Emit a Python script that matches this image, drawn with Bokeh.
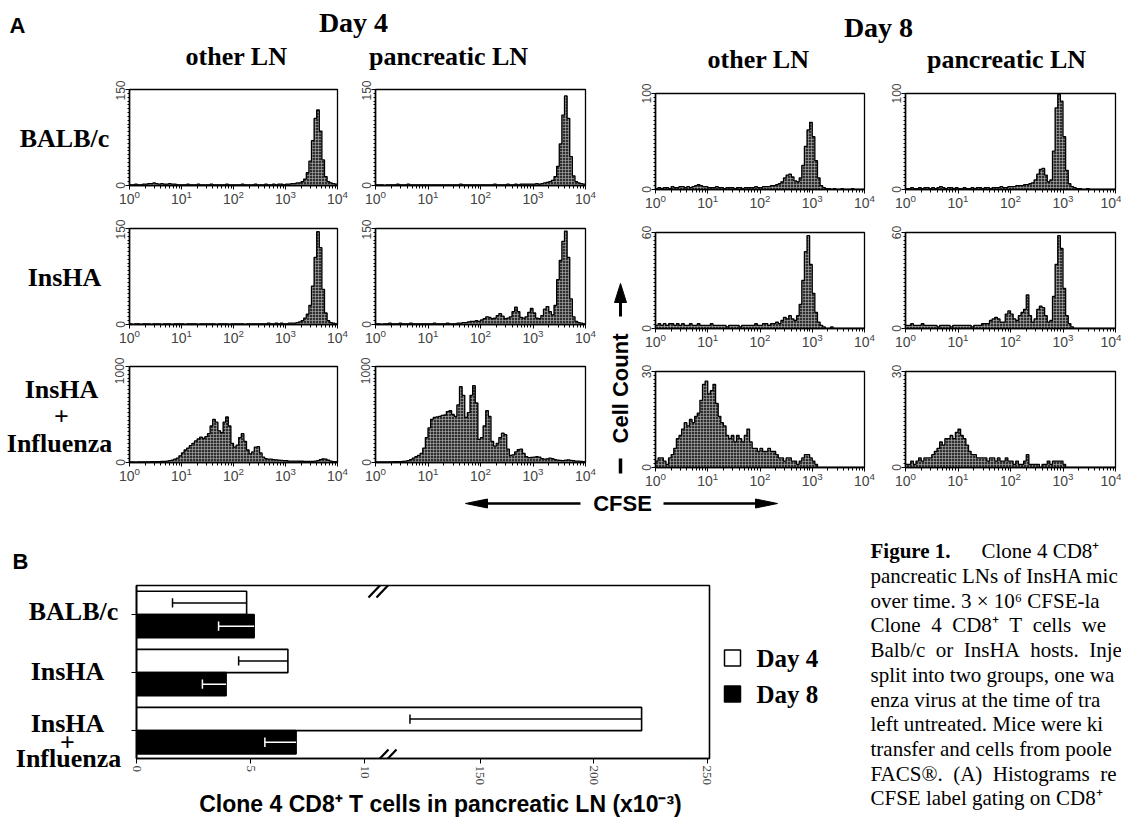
import math
from bokeh.plotting import figure
from bokeh.layouts import column, row
from bokeh.models import (Range1d, FixedTicker, ColumnDataSource, Arrow,
                          CustomJSTransform, CustomJSTickFormatter)
from bokeh.core.properties import value
from bokeh.transform import transform
from bokeh.embed import file_html
from bokeh.resources import INLINE

SANS = "Liberation Sans"
SERIF = "Liberation Serif"

# ---------------- Panel A data (CFSE histograms) ----------------
# 80 bins of 0.05 decade from 10^0 to 10^4 (log10 edges)
cfse_edges_log10 = [round(0.05 * i, 2) for i in range(81)]
hosts = ["BALB/c", "InsHA", "InsHA + Influenza"]
ymax_day4 = [150, 150, 1000]
ymax_day8 = [100, 60, 30]

d4_other_balbc = [1,1,2,1,1,2, 2,3,3,4,3,2,3,2,2,3,2,2,1,1,
                  1,1,2,1,1,1,2,1,1,1, 1,2,1,1,1,1,1,2,1,1, 1,1,1,2,1,1,1,1,2,1, 1,1,2,1,1,2,1,2,2,1,
                  2,2,3,3,4,4, 6,10,20,38,70,105,118,85,40,14,6,4,3,2]
d4_panc_balbc = [1,1,1,0,1,1,1,1,2,1, 1,1,2,1,1,1,1,1,1,1, 1,1,1,1,1,1,1,1,1,1,
                 1,1,2,1,1,1,1,1,1,1, 1,1,1,1,1,2,1,1,1,1, 2,1,1,2,1,2,2,2,2,2,
                 2,3,2,3,4,5, 6,8,14,30,65,110,140,105,45,15,6,4,3,2]
d4_other_insha = [1,0,1,1,0,1,1,1,0,1, 1,1,0,1,1,1,0,1,1,1, 1,0,1,1,1,1,0,1,1,1,
                  1,1,1,0,1,1,1,1,0,1, 1,1,1,1,0,1,1,1,1,1, 1,1,1,2,1,1,2,1,2,1,
                  1,2,2,2,3,4,6, 10,16,30,60,105,145,120,55,18,6,3,2,1]
d4_panc_insha = [1,1,0,1,1,2,1,1,1,2, 1,1,1,2,1,1,1,1,1,1, 1,1,2,1,1,1,1,2,1,1,
                 1,2,2,3,3,4,5,5,6,5, 7,9,12,11,9,10,14,17,13,9, 10,12,20,27,20,11,10,12,19,25,
                 18,10,9,14,24,28,20,15,30,70, 100,130,146,105,40,12,5,3,2,1]
d4_other_flu = [5,5,4,5,6,6,7,6,8,8,10,10,12,12,15,20,
                25,35,45,70,100, 130,150,175,200,225, 245,265,250,270,300, 380,450,420,330,310,
                420,475,380,200,160, 180,260,300,220,130, 90,110,160,165,100, 55,40,35,35,30,
                28,25,22,20,18, 15,15,14,14,13, 13,12,12,12,12, 14,20,30,38,35, 25,15,10,8]
d4_panc_flu = [5,6,5,6,6,7,7,8,8,10,12,15,
               20,30,45,60,75, 95,150,260,360,450, 470,475,480,490,495, 530,540,500,480,600,
               790,700,470,520,700, 800,620,240,260,380, 540,480,220,170,200, 260,305,290,140,75,
               80,110,135,140,95, 60,50,52,55,60, 55,40,35,38,45, 40,30,25,22,20,
               25,28,22,18,15, 15,12,10]
d8_other_balbc = [1,2,1,2,2,1,3,2,2,3,3,2,3,2,3,4, 5,4,3,3,2,
                  2,2,3,2,2,1,2,2,2,1,2,2,1,2,2,2,2,3,2,
                  2,3,3,3,4,4,5,6,8,12,15,16,13,9,8,12,25,45,62,70,55,30,12,4,2,
                  1,1,0,1,0,0,1,0,0,0,1,0,0,0,0]
d8_panc_balbc = [1,1,2,1,1,2,1,2,2,1,2,1,2,3,2,1,2,2,1,2,1,1,2,1,1,2,1,2,2,1,2,2,1,2,2,2,3,2,2,3,
                 3,3,4,4,4,5,5,6,7,10,16,21,22,15,8,10,40,85,99,92,55,20,6,3,2,
                 1,1,0,0,1,0,0,0,0,0,0,0,0,0,0]
d8_other_insha = [2,3,2,3,2,3,3,2,3,2,3,2,2,3,2,2,3,2,2,2,2,3,2,2,2,2,2,1,2,2,2,2,1,2,2,2,2,2,3,2,
                  2,3,3,2,3,3,4,3,5,7,6,8,6,5,8,15,30,48,58,40,22,10,4,2,
                  1,0,0,1,0,0,0,0,0,0,0,0,0,0,0,0]
d8_panc_insha = [2,2,3,2,2,2,3,2,2,2,2,2,1,2,2,2,2,1,2,2,2,2,2,2,2,1,2,2,2,3,
                 3,3,5,6,7,6,4,4,9,11,9,6,5,8,10,12,21,8,4,6,12,14,13,8,4,5,20,40,58,50,25,8,3,1,
                 0,0,0,0,0,0,0,0,0,0,0,0,0,0,0,0]
d8_other_flu = [2,3,3,2,1,3,4,6,9,10, 12,14,13,15,14,16,17,21,26,27, 23,24,26,20,16,14,13,10,9,10,
                8,10,9,8,10,12,8,6,6,5, 6,5,5,6,5,5,4,3,3,2, 3,3,2,2,1,2,3,4,4,3, 2,1,
                0,0,0,0,0,0,0,0,0,0,0,0,0,0,0,0,0,0]
d8_panc_flu = [1,1,2,1,2,3,2,3,3,3, 4,5,6,8,7,9,9,10,9,11, 12,10,9,7,5,4,4,3,3,3,
               3,2,3,3,2,3,2,2,3,2, 2,1,2,1,1,2,4,1,1,1, 1,0,1,1,2,1,2,2,2,2, 1,
               0,0,0,0,0,0,0,0,0,0,0,0,0,0,0,0,0,0,0]

# ---------------- Panel B data ----------------
groups_b = ["BALB/c", "InsHA", "InsHA + Influenza"]
group_pos = [0.5, 1.5, 2.5]
day4_cells = [4.83, 6.64, 221.0]
day4_err = [3.25, 2.16, 102.0]
day8_cells = [5.16, 3.93, 7.0]
day8_err = [1.56, 1.04, 1.37]
x_ticks_b = [0, 5, 10, 150, 200, 250]
# broken axis: 0..10.39 shown at full scale, then 102.9..250.9 compressed
brk_lo, brk_hi, brk_k = 10.39, 102.9, 0.0996
x_end_b = 250.9
legend_labels = ["Day 4", "Day 8"]
legend_fills = ["white", "black"]


def to_display(v):
    return v if v <= brk_lo else brk_lo + (v - brk_hi) * brk_k


def canvas(w, h, tb=0, bb=0):
    p = figure(width=w, height=h, x_range=Range1d(0, w), y_range=Range1d(h - bb, tb),
               toolbar_location=None, output_backend="svg",
               x_axis_location=None, y_axis_location=None, min_border=0,
               min_border_top=tb, min_border_bottom=bb)
    p.outline_line_color = None
    p.xgrid.visible = False
    p.ygrid.visible = False
    return p


def txt(p, x, y, s, font=SERIF, size=26, style="bold", align="center", baseline="alphabetic", angle=0.0):
    # y is given as the alphabetic baseline; place by the middle of the em box
    if baseline == "alphabetic":
        y = y - 0.34 * size
        baseline = "middle"
    p.text(x=[x], y=[y], text=[s], text_font=value(font), text_font_size=f"{size}px",
           text_font_style=style, text_align=align, text_baseline=baseline, angle=angle,
           text_color="black")


def hist_fig(counts, ymax, w, h, lb, rb, tb, bb):
    p = figure(width=w, height=h, x_axis_type="log", x_range=Range1d(1, 1e4),
               y_range=Range1d(0, ymax), toolbar_location=None, output_backend="svg",
               min_border_left=lb, min_border_right=rb, min_border_top=tb, min_border_bottom=bb)
    p.xgrid.visible = False
    p.ygrid.visible = False
    p.outline_line_color = "black"
    p.outline_line_width = 1.3
    xs, ys = [], []
    for i, c in enumerate(counts):
        xs += [10 ** cfse_edges_log10[i], 10 ** cfse_edges_log10[i + 1]]
        ys += [c, c]
    p.varea(x=xs, y1=[0] * len(xs), y2=ys, fill_color="#2f2f2f",
            hatch_pattern="+", hatch_color="#b4b4b4", hatch_scale=3, hatch_weight=0.6)
    p.line(x=xs, y=ys, line_color="black", line_width=1.3)
    xa = p.xaxis[0]
    xa.ticker = FixedTicker(ticks=[1, 10, 100, 1000, 10000],
                            minor_ticks=[m * 10 ** d for d in range(4) for m in range(2, 10)])
    xa.major_label_text_font = SANS
    xa.major_label_text_font_size = "14px"
    xa.major_tick_in = 0
    xa.major_tick_out = 4
    xa.minor_tick_in = 0
    xa.minor_tick_out = 3
    xa.major_label_standoff = 0
    xa.axis_line_width = 1.5
    ya = p.yaxis[0]
    ya.ticker = FixedTicker(ticks=[0, ymax], minor_ticks=[ymax * k / 25 for k in range(26)])
    ya.major_label_orientation = "vertical"
    ya.major_label_text_font = SANS
    ya.major_label_text_font_size = "12px"
    ya.major_tick_in = 0
    ya.major_tick_out = 4
    ya.minor_tick_in = 0
    ya.minor_tick_out = 2
    ya.major_label_standoff = 1
    ya.axis_line_width = 1.5
    return p


# ---------------- header ----------------
header = canvas(1121, 80)
txt(header, 9, 32, "A", font=SANS, size=22, align="left")
txt(header, 353, 32, "Day 4", size=28)
txt(header, 878, 37, "Day 8", size=28)
txt(header, 236, 65, "other LN")
txt(header, 448, 65, "pancreatic LN")
txt(header, 758, 68, "other LN")
txt(header, 1006, 68, "pancreatic LN")

# ---------------- row labels ----------------
lab_a = canvas(112, 410)
txt(lab_a, 64, 67, "BALB/c")
txt(lab_a, 64, 206, "InsHA")
txt(lab_a, 61, 318, "InsHA")
txt(lab_a, 61, 345, "+")
txt(lab_a, 59, 372, "Influenza")

# ---------------- histogram columns ----------------
day4_other = [d4_other_balbc, d4_other_insha, d4_other_flu]
day4_panc = [d4_panc_balbc, d4_panc_insha, d4_panc_flu]
day8_other = [d8_other_balbc, d8_other_insha, d8_other_flu]
day8_panc = [d8_panc_balbc, d8_panc_insha, d8_panc_flu]

heights = [139, 138, 133]
d4_tb = [9, 9, 9]
d8_tb = [13, 13, 14]


def hist_col(data, ymaxes, w, lb, rb, tbs):
    figs = []
    for k in range(3):
        bb = heights[k] - tbs[k] - 96
        figs.append(hist_fig(data[k], ymaxes[k], w, heights[k], lb, rb, tbs[k], bb))
    return column(*figs, spacing=0)


col4o = hist_col(day4_other, ymax_day4, 238, 16, 13, d4_tb)
col4p = hist_col(day4_panc, ymax_day4, 250, 25, 15, d4_tb)
col8o = hist_col(day8_other, ymax_day8, 248, 23, 16, d8_tb)
col8p = hist_col(day8_panc, ymax_day8, 241, 25, 6, d8_tb)

mid = canvas(32, 410)
txt(mid, 20, 308, "Cell Count", font=SANS, size=22, baseline="middle", angle=math.pi / 2)
mid.segment(x0=[20], y0=[219], x1=[20], y1=[236], line_color="black", line_width=3)
mid.patch(x=[20, 14, 26], y=[203, 222, 222], fill_color="black", line_color="black")
mid.segment(x0=[20], y0=[378], x1=[20], y1=[393], line_color="black", line_width=3.5)

# ---------------- footer (CFSE) ----------------
footer = canvas(1121, 32)
txt(footer, 622, 13, "CFSE", font=SANS, size=22, baseline="middle")
footer.segment(x0=[485, 663], y0=[13, 13], x1=[580, 757], y1=[13, 13], line_color="black", line_width=2.5)
footer.patches(xs=[[465, 487, 487], [777, 755, 755]], ys=[[13, 8.5, 17.5], [13, 8.5, 17.5]],
               fill_color="black", line_color="black")

# ---------------- Panel B ----------------
lab_b = canvas(124, 295)
txt(lab_b, 12, 46, "B", font=SANS, size=22, align="left")
txt(lab_b, 73, 98, "BALB/c")
txt(lab_b, 67, 158, "InsHA")
txt(lab_b, 67, 210, "InsHA")
txt(lab_b, 67, 229, "+")
txt(lab_b, 68, 245, "Influenza")

brk = CustomJSTransform(
    args=dict(lo=brk_lo, hi=brk_hi, k=brk_k),
    func="return x <= lo ? x : lo + (x - hi) * k;",
    v_func="const out = new Array(xs.length);"
           "for (let i = 0; i < xs.length; i++) { const x = xs[i]; out[i] = x <= lo ? x : lo + (x - hi) * k; }"
           "return out;")

y4 = [c - 0.2 for c in group_pos]
y8 = [c + 0.2 for c in group_pos]


def bar_source(ys, cells, errs):
    return ColumnDataSource(dict(
        y=ys, cells=cells, lower=[v - e for v, e in zip(cells, errs)],
        cap0=[y - 0.08 for y in ys], cap1=[y + 0.08 for y in ys]))


src4 = bar_source(y4, day4_cells, day4_err)
src8 = bar_source(y8, day8_cells, day8_err)

bar = figure(width=595, height=267, x_range=Range1d(0, to_display(x_end_b)), y_range=Range1d(2.98, 0),
             toolbar_location=None, output_backend="svg",
             min_border_left=12, min_border_right=10, min_border_top=63, min_border_bottom=31)
bar.xgrid.visible = False
bar.ygrid.visible = False
bar.outline_line_color = "black"
bar.outline_line_width = 1.6
for src, fill, ecol in [(src4, "white", "black"), (src8, "black", "white")]:
    bar.hbar(y="y", left=0, right=transform("cells", brk), height=0.4, source=src,
             fill_color=fill, line_color="black", line_width=1.6)
    # error bars (lower side, drawn inside the bar)
    bar.segment(x0=transform("lower", brk), y0="y", x1=transform("cells", brk), y1="y", source=src,
                line_color=ecol, line_width=1.5)
    bar.segment(x0=transform("lower", brk), y0="cap0", x1=transform("lower", brk), y1="cap1", source=src,
                line_color=ecol, line_width=1.5)
xa = bar.xaxis[0]
xa.ticker = FixedTicker(ticks=[to_display(t) for t in x_ticks_b])
xa.formatter = CustomJSTickFormatter(
    args=dict(lo=brk_lo, hi=brk_hi, k=brk_k),
    code="return tick <= lo + 1e-6 ? tick.toFixed(0) : (hi + (tick - lo) / k).toFixed(0);")
xa.major_label_orientation = "vertical"
xa.major_label_text_font = SERIF
xa.major_label_text_font_size = "13px"
xa.major_tick_in = 0
xa.major_tick_out = 5
xa.minor_tick_out = 0
xa.minor_tick_in = 0
xa.major_label_standoff = 2
xa.axis_line_width = 1.6
ya = bar.yaxis[0]
ya.ticker = FixedTicker(ticks=group_pos)
ya.formatter = CustomJSTickFormatter(code="return '';")
ya.major_tick_out = 5
ya.major_tick_in = 0
ya.minor_tick_out = 0
ya.minor_tick_in = 0
ya.major_label_standoff = 0
ya.axis_line_width = 1.6

# axis-break marks "//" on the top and bottom frame lines
sx = 573 / to_display(x_end_b)
sy = 173 / 2.98
for py0, py1 in [(597, 576), (770, 749)]:
    for px0, px1 in [(368, 388), (376, 396)]:
        bar.add_layout(Arrow(end=None, line_color="black", line_width=2.2,
                             x_start=(px0 - 136) / sx, x_end=(px1 - 136) / sx,
                             y_start=(py0 - 585) / sy, y_end=(py1 - 585) / sy))

# legend keys (Day 4 / Day 8)
leg = canvas(147, 267, tb=63, bb=31)
leg.rect(x=[13, 13], y=[135.5, 171.5], width=16, height=16, fill_color=legend_fills,
         line_color="black", line_width=1.5)
for k, lab in enumerate(legend_labels):
    txt(leg, 37, 144 + 36 * k, lab, size=25, align="left")

title_b = canvas(742, 28)
txt(title_b, 316, 22, "Clone 4 CD8\u207a T cells in pancreatic LN (x10\u207b\u00b3)", font=SANS, size=23)

# caption (only the part visible in the cropped figure)
caption = canvas(255, 295)
cap_lines = [
    "",
    "pancreatic LNs of InsHA mic",
    "over time. 3 \u00d7 10\u2076 CFSE-la",
    "Clone\u00a0\u00a04\u00a0\u00a0CD8\u207a\u00a0\u00a0T\u00a0\u00a0cells\u00a0\u00a0we",
    "Balb/c\u00a0\u00a0or\u00a0\u00a0InsHA\u00a0\u00a0hosts.\u00a0\u00a0Inje",
    "split into two groups, one wa",
    "enza virus at the time of tra",
    "left untreated. Mice were ki",
    "transfer and cells from poole",
    "FACS\u00ae.\u00a0\u00a0(A)\u00a0\u00a0Histograms\u00a0\u00a0re",
    "CFSE label gating on CD8\u207a",
]
for k, line in enumerate(cap_lines):
    if line:
        txt(caption, 4, 36 + 24.7 * k, line, size=21, style="normal", align="left")
txt(caption, 4, 36, "Figure 1.", size=21, style="bold", align="left")
txt(caption, 115, 36, "Clone 4 CD8\u207a", size=21, style="normal", align="left")

layout = column(
    header,
    row(lab_a, col4o, col4p, mid, col8o, col8p, spacing=0),
    footer,
    row(lab_b, column(row(bar, leg, spacing=0), title_b, spacing=0), caption, spacing=0),
    spacing=0,
)

open("out.html", "w").write(file_html(layout, INLINE))
